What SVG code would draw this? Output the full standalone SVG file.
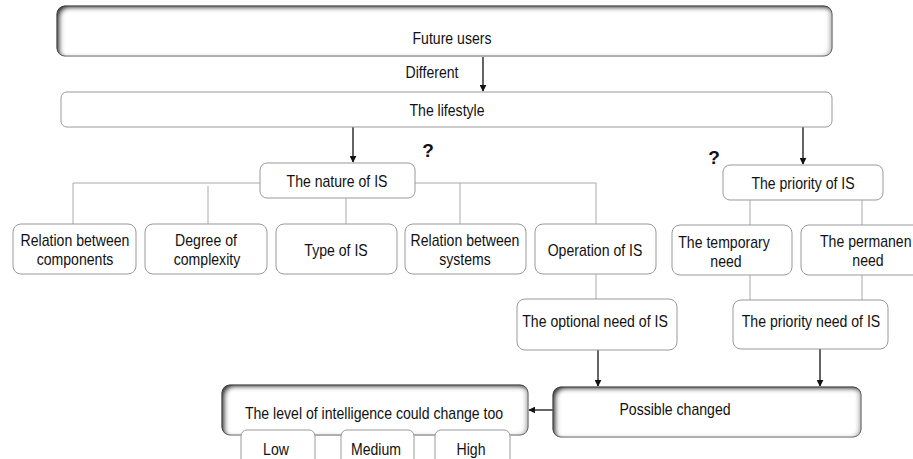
<svg xmlns="http://www.w3.org/2000/svg" width="913" height="459" viewBox="0 0 913 459">
<defs>
<style>
.box{fill:#fff;stroke:#999;stroke-width:1}
.sbox{fill:#fff;stroke:#888;stroke-width:1;filter:url(#inset)}
.t{font-family:"Liberation Sans",Arial,sans-serif;font-size:16px;fill:#111;text-anchor:middle}
.q{font-family:"Liberation Sans",Arial,sans-serif;font-size:19px;font-weight:bold;fill:#111;text-anchor:middle}
.tree{fill:none;stroke:#aaa;stroke-width:1}
.arr{fill:none;stroke:#111;stroke-width:1.3;marker-end:url(#ah)}
</style>
<filter id="inset" x="-5%" y="-20%" width="110%" height="140%">
<feFlood flood-color="#3a3a3a"/>
<feComposite in2="SourceAlpha" operator="out" result="outside"/>
<feGaussianBlur in="outside" stdDeviation="2.2" result="blur"/>
<feOffset in="blur" dx="4" dy="3" result="o1"/>
<feOffset in="blur" dx="-3" dy="0" result="o2"/>
<feComponentTransfer in="o2" result="o2b"><feFuncA type="linear" slope="0.6"/></feComponentTransfer>
<feMerge result="both"><feMergeNode in="o1"/><feMergeNode in="o2b"/></feMerge>
<feComposite in="both" in2="SourceAlpha" operator="in" result="sh"/>
<feMerge><feMergeNode in="SourceGraphic"/><feMergeNode in="sh"/></feMerge>
</filter>
<marker id="ah" viewBox="0 0 10 10" refX="9" refY="5" markerWidth="7" markerHeight="7" markerUnits="userSpaceOnUse" orient="auto">
<path d="M0,0 L10,5 L0,10 z" fill="#111"/>
</marker>
</defs>
<rect width="913" height="459" fill="#fff"/>
<g id="connectors">
<path class="tree" d="M73,224 V183 H260"/>
<path class="tree" d="M208,186 V224"/>
<path class="tree" d="M346,198 V224"/>
<path class="tree" d="M415,183 H596 V224"/>
<path class="tree" d="M460,183 V224"/>
<path class="tree" d="M596,274 V299"/>
<path class="tree" d="M750,200 V225"/>
<path class="tree" d="M862,200 V225"/>
<path class="tree" d="M750,275 V300"/>
<path class="tree" d="M862,275 V300"/>
<path class="arr" d="M483,57 V91"/>
<path class="arr" d="M353,127 V162"/>
<path class="arr" d="M803,127 V164"/>
<path class="arr" d="M598,350 V386"/>
<path class="arr" d="M820,349 V386"/>
<path class="arr" d="M553,410 H529"/>
</g>
<g id="future-users">
<rect class="sbox" x="57" y="6" width="775" height="50" rx="8"/>
<text class="t" transform="translate(452,44) scale(.88,1)">Future users</text>
</g>
<text class="t" transform="translate(432,78) scale(.88,1)">Different</text>
<g id="lifestyle">
<rect class="box" x="61" y="92" width="771" height="35" rx="6"/>
<text class="t" transform="translate(447,116) scale(.88,1)">The lifestyle</text>
</g>
<text class="q" x="428" y="157">?</text>
<text class="q" x="714" y="164">?</text>
<g id="nature">
<rect class="box" x="260" y="163" width="155" height="35" rx="7"/>
<text class="t" transform="translate(337,187) scale(.88,1)">The nature of IS</text>
</g>
<g id="rel-components">
<rect class="box" x="13" y="224" width="123" height="50" rx="8"/>
<text class="t" transform="translate(75,246) scale(.88,1)">Relation between</text>
<text class="t" transform="translate(75,265) scale(.88,1)">components</text>
</g>
<g id="complexity">
<rect class="box" x="145" y="224" width="122" height="50" rx="8"/>
<text class="t" transform="translate(206,246) scale(.88,1)">Degree of</text>
<text class="t" transform="translate(207,265) scale(.88,1)">complexity</text>
</g>
<g id="type">
<rect class="box" x="276" y="224" width="121" height="50" rx="8"/>
<text class="t" transform="translate(336,256) scale(.88,1)">Type of IS</text>
</g>
<g id="rel-systems">
<rect class="box" x="405" y="224" width="121" height="50" rx="8"/>
<text class="t" transform="translate(465,246) scale(.88,1)">Relation between</text>
<text class="t" transform="translate(465,265) scale(.88,1)">systems</text>
</g>
<g id="operation">
<rect class="box" x="535" y="224" width="121" height="50" rx="8"/>
<text class="t" transform="translate(595,256) scale(.88,1)">Operation of IS</text>
</g>
<g id="priority">
<rect class="box" x="723" y="165" width="160" height="35" rx="7"/>
<text class="t" transform="translate(803,189) scale(.88,1)">The priority of IS</text>
</g>
<g id="temporary">
<rect class="box" x="672" y="225" width="120" height="50" rx="8"/>
<text class="t" transform="translate(724,248) scale(.88,1)">The temporary</text>
<text class="t" transform="translate(726,267) scale(.88,1)">need</text>
</g>
<g id="permanent">
<rect class="box" x="801" y="225" width="125" height="50" rx="8"/>
<text class="t" style="text-anchor:start" transform="translate(820,247) scale(.88,1)">The permanen</text>
<text class="t" transform="translate(868,266) scale(.88,1)">need</text>
</g>
<g id="optional">
<rect class="box" x="517" y="299" width="160" height="51" rx="8"/>
<text class="t" transform="translate(595,327) scale(.88,1)">The optional need of IS</text>
</g>
<g id="priority-need">
<rect class="box" x="733" y="300" width="155" height="49" rx="8"/>
<text class="t" transform="translate(811,327) scale(.88,1)">The priority need of IS</text>
</g>
<g id="possible">
<rect class="sbox" x="553" y="387" width="308" height="50" rx="8"/>
<text class="t" transform="translate(675,415) scale(.88,1)">Possible changed</text>
</g>
<g id="level">
<rect class="sbox" x="222" y="385" width="306" height="50" rx="8"/>
<text class="t" transform="translate(374,419) scale(.88,1)">The level of intelligence could change too</text>
</g>
<g id="low">
<rect class="box" x="241" y="430" width="74" height="40" rx="6"/>
<text class="t" transform="translate(276,455) scale(.88,1)">Low</text>
</g>
<g id="medium">
<rect class="box" x="341" y="430" width="73" height="40" rx="6"/>
<text class="t" transform="translate(376,455) scale(.88,1)">Medium</text>
</g>
<g id="high">
<rect class="box" x="435" y="430" width="75" height="40" rx="6"/>
<text class="t" transform="translate(471,455) scale(.88,1)">High</text>
</g>
</svg>
